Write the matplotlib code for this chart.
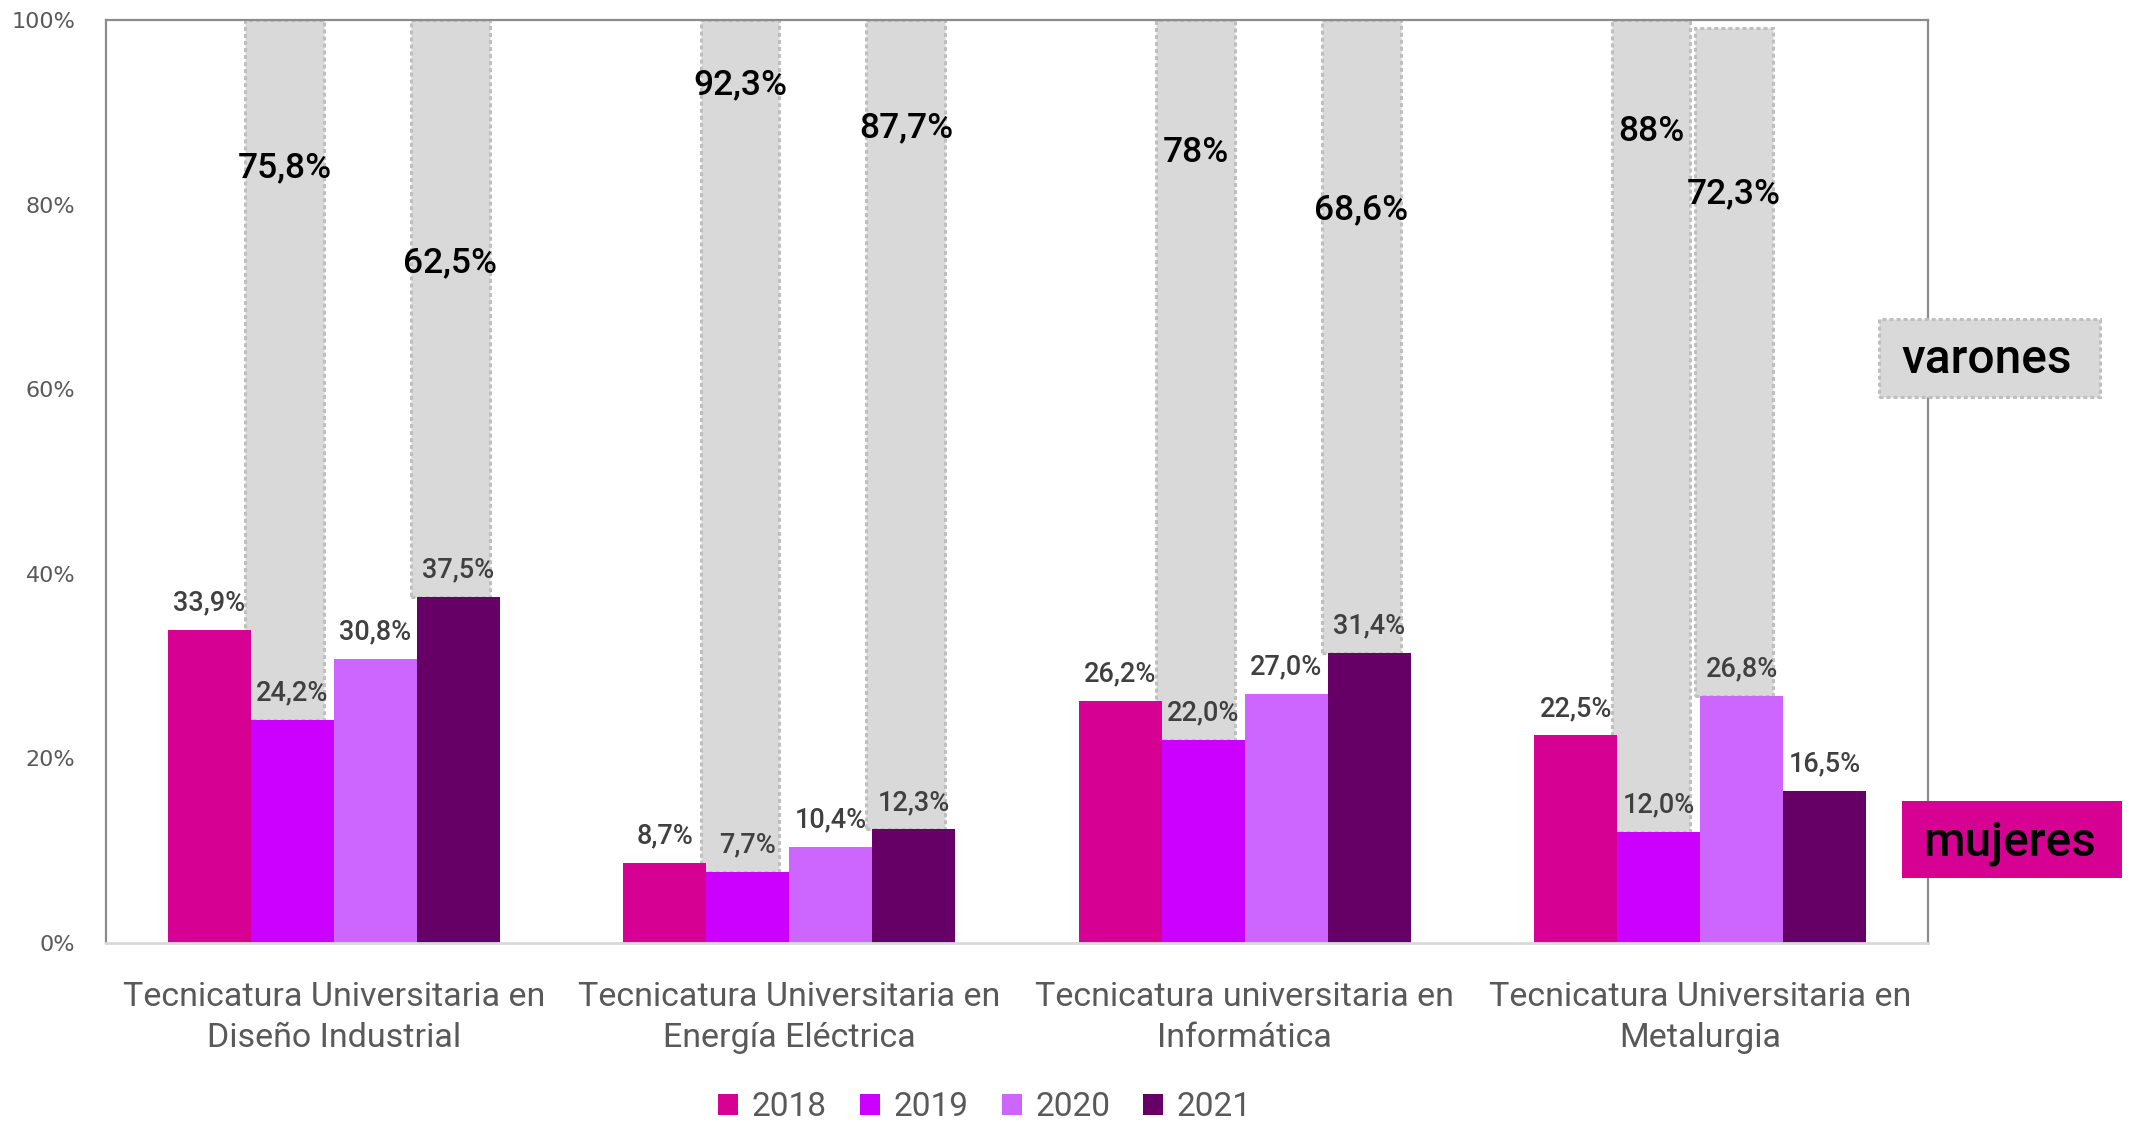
import matplotlib
matplotlib.use('Agg')
import matplotlib.pyplot as plt
from matplotlib.patches import Rectangle, Patch
import numpy as np

# ---------------- data ----------------
categories = ["Tecnicatura Universitaria en\nDiseño Industrial",
              "Tecnicatura Universitaria en\nEnergía Eléctrica",
              "Tecnicatura universitaria en\nInformática",
              "Tecnicatura Universitaria en\nMetalurgia"]
years = ["2018", "2019", "2020", "2021"]
mujeres_2018 = [33.9, 8.7, 26.2, 22.5]
mujeres_2019 = [24.2, 7.7, 22.0, 12.0]
mujeres_2020 = [30.8, 10.4, 27.0, 26.8]
mujeres_2021 = [37.5, 12.3, 31.4, 16.5]
# varones call-out boxes: category index, year index, value
varones_cat = [0, 0, 1, 1, 2, 2, 3, 3]
varones_year = [1, 3, 1, 3, 1, 3, 1, 2]
varones_val = [75.8, 62.5, 92.3, 87.7, 78, 68.6, 88, 72.3]
# layout: vertical position of the varones labels (axis units)
varones_label_y = [84.0, 73.7, 93.0, 88.3, 85.6, 79.4, 87.9, 81.2]
yticks = [0, 20, 40, 60, 80, 100]

colors = ["#D60093", "#CC00FF", "#CC66FF", "#660066"]
mujeres = [mujeres_2018, mujeres_2019, mujeres_2020, mujeres_2021]

W, H = 2137, 1124
plt.rcParams['font.family'] = ['Roboto', 'DejaVu Sans']
fig = plt.figure(figsize=(W / 100, H / 100), dpi=100)
ax = fig.add_axes([106 / W, 1 - 943 / H, (1928 - 106) / W, (943 - 20) / H])

x = np.arange(len(categories))
bw = 0.182

def fmt_m(v):
    return f"{v:.1f}".replace('.', ',') + '%'

def fmt_v(v):
    if float(v).is_integer():
        return f"{int(v)}%"
    return f"{v:.1f}".replace('.', ',') + '%'

# varones boxes (behind)
for c, yi, v, ly in zip(varones_cat, varones_year, varones_val, varones_label_y):
    bx = x[c] + (yi - 1.5) * bw - 0.017
    bottom = mujeres[yi][c]
    ax.bar(bx, v, bottom=bottom, width=bw * 0.95, color='#D9D9D9',
           edgecolor='#BFBFBF', linewidth=2.2, linestyle=(0, (1.3, 1.0)), zorder=1)
    ax.text(bx, ly, fmt_v(v), ha='center', va='center', fontsize=25.5,
            fontweight='medium', color='black', zorder=4)

# mujeres bars
for i, (yr, vals) in enumerate(zip(years, mujeres)):
    pos = x + (i - 1.5) * bw
    ax.bar(pos, vals, width=bw, color=colors[i], linewidth=0, zorder=2, label=yr)
    for p, v in zip(pos, vals):
        ax.annotate(fmt_m(v), (p, v), xytext=(0, 14), textcoords='offset points',
                    ha='center', va='baseline', fontsize=19.5, fontweight='medium',
                    color='#404040', zorder=5)

ax.set_xlim(-0.5, len(categories) - 0.5)
ax.set_ylim(0, 100)
ax.set_yticks(yticks)
ax.set_yticklabels([f"{t}%" for t in yticks], fontfamily='DejaVu Sans', fontsize=16,
                   color='#595959')
ax.set_xticks(x)
ax.set_xticklabels(categories, fontsize=24.5, color='#595959', linespacing=1.38)
ax.tick_params(axis='y', length=0, pad=22)
ax.tick_params(axis='x', length=0, pad=27)
for s in ['left', 'top', 'right']:
    ax.spines[s].set_color('#8C8C8C')
    ax.spines[s].set_linewidth(1.6)
ax.spines['bottom'].set_color('#D9D9D9')
ax.spines['bottom'].set_linewidth(2)

# legend
handles = [Patch(facecolor=c, edgecolor='none') for c in colors]
fig.legend(handles, years, loc='center', bbox_to_anchor=(985 / W, 1 - 1107 / H), ncol=4,
           frameon=False, fontsize=24, handlelength=0.6, handleheight=0.6,
           handletextpad=0.4, columnspacing=1.0, labelcolor='#595959')

# side call-out boxes
def fig_box(x0, y0, x1, y1, **kw):
    r = Rectangle((x0 / W, 1 - y1 / H), (x1 - x0) / W, (y1 - y0) / H,
                  transform=fig.transFigure, **kw)
    fig.add_artist(r)
    return ((x0 + x1) / 2 / W, 1 - (y0 + y1) / 2 / H)

cx, cy = fig_box(1879, 319, 2100, 397, facecolor='#D9D9D9', edgecolor='#BFBFBF',
                 linewidth=2.2, linestyle=(0, (1.3, 1.0)))
fig.text(cx - 3 / W, cy - 2 / H, 'varones', ha='center', va='center', fontsize=34.5,
         fontweight='medium', color='black')
cx, cy = fig_box(1902, 801, 2122, 878, facecolor='#D60093', edgecolor='none')
fig.text(cx - 2 / W, cy - 4 / H, 'mujeres', ha='center', va='center', fontsize=34.5,
         fontweight='medium', color='black')

fig.savefig('out.png', dpi=100)
